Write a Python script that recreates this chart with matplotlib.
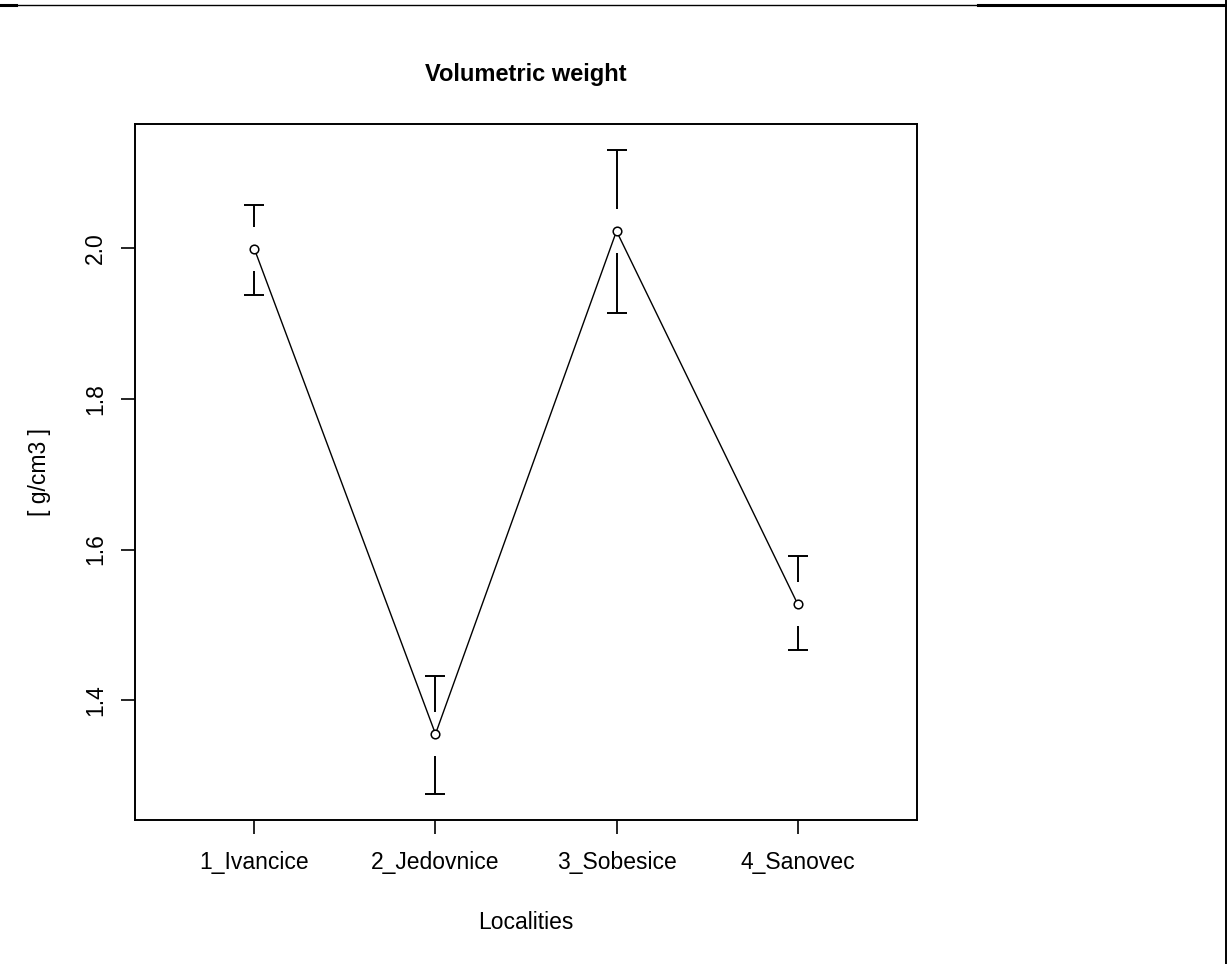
import matplotlib
matplotlib.use("Agg")
import matplotlib.pyplot as plt
from matplotlib.lines import Line2D
import numpy as np

# ---- data ----
localities = ["1_Ivancice", "2_Jedovnice", "3_Sobesice", "4_Sanovec"]
means = [1.999, 1.355, 2.023, 1.528]
upper = [2.057, 1.432, 2.131, 1.591]
lower = [1.938, 1.275, 1.914, 1.466]
title = "Volumetric weight"
xlabel = "Localities"
ylabel = "[ g/cm3 ]"
yticks = [1.4, 1.6, 1.8, 2.0]

plt.rcParams['font.family'] = ['Liberation Sans', 'DejaVu Sans']

W, H, DPI = 1227, 964, 100
fig = plt.figure(figsize=(W / DPI, H / DPI), dpi=DPI)
ax = fig.add_axes([135 / W, 1 - 820 / H, (917 - 135) / W, (820 - 124) / H])

x = np.arange(1, len(localities) + 1)

# R-style 4% extension of the ranges
lo, hi = min(lower), max(upper)
r = hi - lo
ax.set_ylim(lo - 0.04 * r, hi + 0.04 * r)
ax.set_xlim(0.5 - 0.04 * 4, 4.5 + 0.04 * 4)

# gap around the point (pixels -> data units)
ax_h_px = (820 - 124)
ylo, yhi = ax.get_ylim()
gap = 22 * (yhi - ylo) / ax_h_px

lw_bar = 1.4
ax.plot(x, means, color='black', lw=1.0, marker='o', ms=6.2,
        mfc='white', mec='black', mew=1.1, zorder=3)
means_a = np.array(means)
up_a = np.array(upper)
lo_a = np.array(lower)
ax.vlines(x, means_a + gap, up_a, color='black', lw=lw_bar)
ax.vlines(x, lo_a, means_a - gap, color='black', lw=lw_bar)
ax.plot(x, up_a, ls='none', marker='_', ms=14.5, mew=lw_bar, color='black')
ax.plot(x, lo_a, ls='none', marker='_', ms=14.5, mew=lw_bar, color='black')

ax.set_xticks(x)
ax.set_xticklabels(localities, fontsize=16.5)
ax.set_yticks(yticks)
ax.set_yticklabels([f"{v:.1f}" for v in yticks], fontsize=16.5,
                   rotation=90, va='center')
ax.tick_params(axis='both', direction='out', length=10, width=1.2,
               color='black')
ax.tick_params(axis='x', pad=12)
ax.tick_params(axis='y', pad=10)
for s in ax.spines.values():
    s.set_linewidth(1.4)
    s.set_color('black')

ax.set_title(title, fontsize=17, fontweight='bold', pad=31)
ax.set_xlabel(xlabel, fontsize=16.5, labelpad=27)
ax.set_ylabel(ylabel, fontsize=16.5, labelpad=24)

# frame lines at the top and right edges of the image
fig.add_artist(Line2D([0, 978 / W], [1 - 4.5 / H] * 2, color='black', lw=1.0,
                      transform=fig.transFigure))
fig.add_artist(Line2D([978 / W, 1], [1 - 5 / H] * 2, color='black', lw=2.2,
                      transform=fig.transFigure))
fig.add_artist(Line2D([0, 16 / W], [1 - 5 / H] * 2, color='black', lw=2.2,
                      transform=fig.transFigure))
fig.add_artist(Line2D([1 - 1.5 / W] * 2, [0, 1], color='black', lw=1.4,
                      transform=fig.transFigure))

fig.savefig("out.png", dpi=DPI, facecolor='white')
